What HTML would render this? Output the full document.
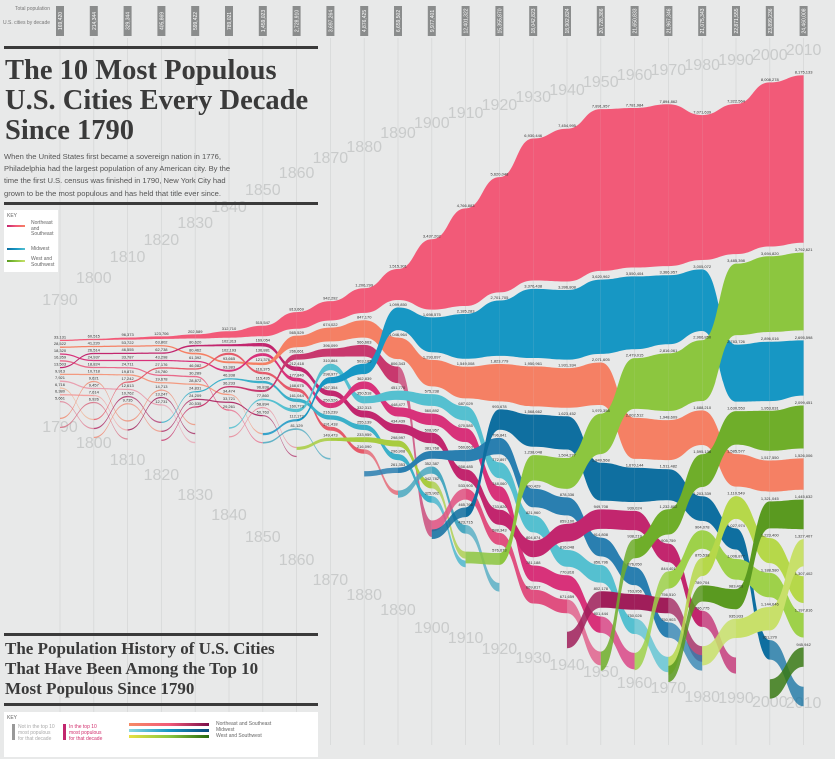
<!DOCTYPE html>
<html><head><meta charset="utf-8">
<style>
html,body{margin:0;padding:0;background:#e8e9e9;}
#wrap{position:relative;width:835px;height:759px;overflow:hidden;background:#e8e9e9;font-family:"Liberation Sans",sans-serif;}
svg{position:absolute;left:0;top:0;}
.title{position:absolute;left:5px;font-family:"Liberation Serif",serif;font-weight:bold;color:#3a3a3a;white-space:nowrap;}
.rule{position:absolute;left:4px;width:314px;height:3px;background:#3a3a3a;}
.para{position:absolute;left:4px;top:151px;width:240px;font-size:7.6px;line-height:12.2px;color:#555;white-space:nowrap;}
.key{position:absolute;background:#fff;font-size:5px;color:#666;}
</style></head><body>
<div id="wrap">
<svg id="chart" width="835" height="759"></svg>
<div class="rule" style="top:46px"></div>
<div class="title" style="top:56px;font-size:28.5px;line-height:30px;">The 10 Most Populous<br>U.S. Cities Every Decade<br>Since 1790</div>
<div class="para">When the United States first became a sovereign nation in 1776,<br>Philadelphia had the largest population of any American city. By the<br>time the first U.S. census was finished in 1790, New York City had<br>grown to be the most populous and has held that title ever since.</div>
<div class="rule" style="top:202px"></div>
<div class="key" style="left:4px;top:210px;width:54px;height:62px;">
 <div style="position:absolute;left:3px;top:3px;">KEY</div>
 <div style="position:absolute;left:3px;top:15px;width:18px;height:2px;background:linear-gradient(90deg,#c2266e,#f25a78,#f58064)"></div>
 <div style="position:absolute;left:27px;top:11px;line-height:5.5px">Northeast<br>and<br>Southeast</div>
 <div style="position:absolute;left:3px;top:38px;width:18px;height:2px;background:linear-gradient(90deg,#0f6fa0,#1797c4,#55c0d0)"></div>
 <div style="position:absolute;left:27px;top:36px;">Midwest</div>
 <div style="position:absolute;left:3px;top:50px;width:18px;height:2px;background:linear-gradient(90deg,#5a9a20,#8cc63f,#c8e06a)"></div>
 <div style="position:absolute;left:27px;top:47px;line-height:5.5px">West and<br>Southwest</div>
</div>
<div class="rule" style="top:633px"></div>
<div class="title" style="top:639px;font-size:17px;line-height:20px;">The Population History of U.S. Cities<br>That Have Been Among the Top 10<br>Most Populous Since 1790</div>
<div class="rule" style="top:703px"></div>
<div class="key" style="left:4px;top:712px;width:314px;height:45px;">
 <div style="position:absolute;left:3px;top:3px;">KEY</div>
 <div style="position:absolute;left:8px;top:12px;width:3px;height:16px;background:#999"></div>
 <div style="position:absolute;left:14px;top:12px;line-height:6px;color:#aaa">Not in the top 10<br>most populous<br>for that decade</div>
 <div style="position:absolute;left:59px;top:12px;width:3px;height:16px;background:#c2266e"></div>
 <div style="position:absolute;left:65px;top:12px;line-height:6px;color:#d2306e">In the top 10<br>most populous<br>for that decade</div>
 <div style="position:absolute;left:125px;top:11px;width:80px;height:3px;background:linear-gradient(90deg,#f58a64,#f25a78,#7a0f4a)"></div>
 <div style="position:absolute;left:125px;top:17px;width:80px;height:3px;background:linear-gradient(90deg,#8ad8e0,#1797c4,#0a4a7a)"></div>
 <div style="position:absolute;left:125px;top:23px;width:80px;height:3px;background:linear-gradient(90deg,#e8e040,#8cc63f,#2a6a10)"></div>
 <div style="position:absolute;left:212px;top:9px;line-height:6px">Northeast and Southeast<br>Midwest<br>West and Southwest</div>
</div>
</div>
<script>
const decades=[1790,1800,1810,1820,1830,1840,1850,1860,1870,1880,1890,1900,1910,1920,1930,1940,1950,1960,1970,1980,1990,2000,2010];
const totals=["169,420","214,344","329,344","405,869","599,422","789,021","1,459,023","2,728,910","3,697,264","4,876,425","6,659,502","9,977,401","12,401,322","15,355,870","18,042,823","18,902,824","20,728,386","21,650,833","21,967,346","21,075,343","22,871,555","23,899,236","24,460,008"];
const rankedCities=[
["New York","Philadelphia","Boston","Charleston","Baltimore","Northern Liberties","Salem","Newport","Providence","Marblehead"],
["New York","Philadelphia","Baltimore","Boston","Charleston","Northern Liberties","Southwark","Salem","Providence","Norfolk"],
["New York","Philadelphia","Baltimore","Boston","Charleston","Northern Liberties","New Orleans","Salem","Albany","Richmond"],
["New York","Philadelphia","Baltimore","Boston","New Orleans","Charleston","Northern Liberties","Southwark","Washington","Salem"],
["New York","Baltimore","Philadelphia","Boston","New Orleans","Charleston","Northern Liberties","Cincinnati","Albany","Brooklyn"],
["New York","Baltimore","New Orleans","Philadelphia","Boston","Cincinnati","Brooklyn","Northern Liberties","Albany","Charleston"],
["New York","Baltimore","Boston","Philadelphia","New Orleans","Cincinnati","Brooklyn","St. Louis","Spring Garden","Albany"],
["New York","Philadelphia","Brooklyn","Baltimore","Boston","New Orleans","Cincinnati","St. Louis","Chicago","Buffalo"],
["New York","Philadelphia","Brooklyn","St. Louis","Chicago","Baltimore","Boston","Cincinnati","New Orleans","San Francisco"],
["New York","Philadelphia","Brooklyn","Chicago","Boston","St. Louis","Baltimore","Cincinnati","San Francisco","New Orleans"],
["New York","Chicago","Philadelphia","Brooklyn","St. Louis","Boston","Baltimore","San Francisco","Cincinnati","Cleveland"],
["New York","Chicago","Philadelphia","St. Louis","Boston","Baltimore","Cleveland","Buffalo","San Francisco","Cincinnati"],
["New York","Chicago","Philadelphia","St. Louis","Boston","Cleveland","Baltimore","Pittsburgh","Detroit","Buffalo"],
["New York","Chicago","Philadelphia","Detroit","Cleveland","St. Louis","Boston","Baltimore","Pittsburgh","Los Angeles"],
["New York","Chicago","Philadelphia","Detroit","Los Angeles","Cleveland","St. Louis","Baltimore","Boston","Pittsburgh"],
["New York","Chicago","Philadelphia","Detroit","Los Angeles","Cleveland","Baltimore","St. Louis","Boston","Pittsburgh"],
["New York","Chicago","Philadelphia","Los Angeles","Detroit","Baltimore","Cleveland","St. Louis","Washington","Boston"],
["New York","Chicago","Los Angeles","Philadelphia","Detroit","Baltimore","Houston","Cleveland","Washington","St. Louis"],
["New York","Chicago","Los Angeles","Philadelphia","Detroit","Houston","Baltimore","Dallas","Washington","Cleveland"],
["New York","Chicago","Los Angeles","Philadelphia","Houston","Detroit","Dallas","San Diego","Phoenix","Baltimore"],
["New York","Los Angeles","Chicago","Houston","Philadelphia","San Diego","Detroit","Dallas","Phoenix","San Antonio"],
["New York","Los Angeles","Chicago","Houston","Philadelphia","Phoenix","San Diego","Dallas","San Antonio","Detroit"],
["New York","Los Angeles","Chicago","Houston","Philadelphia","Phoenix","San Antonio","San Diego","Dallas","San Jose"]];
const rankedPops=[
[33131,28522,18320,16359,13503,9913,7921,6716,6380,5661],
[60515,41220,26514,24937,18824,10718,9621,9457,7614,6926],
[96373,53722,46555,33787,24711,19874,17242,12613,10762,9735],
[123706,63802,62738,43298,27176,24780,19678,14713,13247,12731],
[202589,80620,80462,61392,46082,30289,28872,24831,24209,20535],
[312710,102313,102193,93665,93383,46338,36233,34474,33721,29261],
[515547,169054,136881,121376,116375,115435,96838,77860,58894,50763],
[813669,565529,266661,212418,177840,168675,161044,160773,112172,81129],
[942292,674022,396099,310864,298977,267354,250526,216239,191418,149473],
[1206299,847170,566663,503185,362839,350518,332313,255139,233959,216090],
[1515301,1099850,1046964,806343,451770,448477,434439,298997,296908,261353],
[3437202,1698575,1293697,575238,560892,508957,381768,352387,342782,325902],
[4766883,2185283,1549008,687029,670585,560663,558485,533905,465766,423715],
[5620048,2701705,1823779,993678,796841,772897,748060,733826,588343,576673],
[6930446,3376438,1950961,1568662,1238048,900429,821960,804874,781188,669817],
[7454995,3396808,1931334,1623452,1504277,878336,859100,816048,770816,671659],
[7891957,3620962,2071605,1970358,1849568,949708,914808,856796,802178,801444],
[7781984,3550404,2479015,2002512,1670144,939024,938219,876050,763956,750026],
[7894862,3366957,2816061,1948609,1511482,1232802,905759,844401,756510,750903],
[7071639,3005072,2966850,1688210,1595138,1203339,904078,875538,789704,786775],
[7322564,3485398,2783726,1630553,1585577,1110549,1027974,1006877,983403,935933],
[8008278,3694820,2896016,1953631,1517550,1321045,1223400,1188580,1144646,951270],
[8175133,3792621,2695598,2099451,1526006,1445632,1327407,1307402,1197816,945942]];
const cityColor={"New York":"#f25a78","Philadelphia":"#f58064","Boston":"#d8327a","Charleston":"#e86a8a","Baltimore":"#c2266e","Northern Liberties":"#f39a80","Salem":"#e9a0b0","Newport":"#f0b090","Providence":"#f2a1a0","Marblehead":"#e07a90","Southwark":"#ee8a70","Norfolk":"#d86a80","New Orleans":"#e55a6a","Albany":"#b0306a","Richmond":"#f08c78","Washington":"#a01e5a","Cincinnati":"#3bb0c9","Brooklyn":"#c8386e","St. Louis":"#55c0d0","Spring Garden":"#e88a9a","Chicago":"#1797c4","Buffalo":"#4aa8c0","San Francisco":"#a8cc40","Cleveland":"#2a7fb0","Pittsburgh":"#e05080","Detroit":"#0f6fa0","Los Angeles":"#8cc63f","Houston":"#6fae2a","Dallas":"#9ed14a","San Diego":"#b6d84a","Phoenix":"#5a9a20","San Antonio":"#c8e06a","San Jose":"#3a7a15"};
const upperY=[305,283,262,245,228,212,195,178,163,152,138,128,118,110,102,95,87,80,75,70,65,60,55];
const lowerY=[432,448,465,480,500,520,542,565,585,600,615,633,643,654,663,670,677,688,693,702,703,707,708];

const svg=document.getElementById('chart');
const NS='http://www.w3.org/2000/svg';
function xOf(i){return 60+i*33.8;}
function hOf(p){return Math.max(1.3,p*20.5e-6);}
function gapOf(i){return 5.5+i*0.2;}
const CENTER=371;
function mk(tag,attrs){const e=document.createElementNS(NS,tag);for(const k in attrs)e.setAttribute(k,attrs[k]);svg.appendChild(e);return e;}
function fmt(n){return n.toLocaleString('en-US');}

const layout=decades.map((d,i)=>{
  const pops=rankedPops[i];let total=pops.reduce((a,p)=>a+hOf(p),0)+9*gapOf(i);
  let y=CENTER-total/2;const m={};
  rankedCities[i].forEach((c,k)=>{const h=hOf(pops[k]);m[c]={t:y,b:y+h,p:pops[k]};y+=h+gapOf(i);});
  m._bottom=y;return m;});

decades.forEach((d,i)=>{
  const l=mk('line',{x1:xOf(i),x2:xOf(i),y1:38,y2:745,stroke:'#d6d8d8','stroke-width':0.8});
  
  
});
decades.forEach((d,i)=>{
  const t=mk('text',{x:xOf(i),y:upperY[i],'text-anchor':'middle','font-size':16,fill:'#c9cbcb','font-family':'Liberation Sans Narrow, Liberation Sans, sans-serif'});
  t.textContent=d;
  
  
  const t2=mk('text',{x:xOf(i),y:lowerY[i],'text-anchor':'middle','font-size':16,fill:'#c9cbcb','font-family':'Liberation Sans Narrow, Liberation Sans, sans-serif'});
  t2.textContent=d;
  
  
  const g=mk('g',{transform:`translate(${xOf(i)},6) rotate(-90)`});
  
  
  const r=document.createElementNS(NS,'rect');r.setAttribute('x',-30);r.setAttribute('y',-4);r.setAttribute('width',30);r.setAttribute('height',8);r.setAttribute('fill','#8a8c8c');g.appendChild(r);
  const tt=document.createElementNS(NS,'text');tt.setAttribute('x',-15);tt.setAttribute('y',2);tt.setAttribute('text-anchor','middle');tt.setAttribute('font-size',5);tt.setAttribute('fill','#fff');tt.textContent=totals[i];g.appendChild(tt);
});
const tp=mk('text',{x:50,y:10,'text-anchor':'end','font-size':5,fill:'#777'});tp.textContent='Total population';


const tp2=mk('text',{x:50,y:24,'text-anchor':'end','font-size':5,fill:'#777'});tp2.textContent='U.S. cities by decade';



for(let i=0;i<decades.length-1;i++){
  const A=layout[i],B=layout[i+1],x0=xOf(i),x1=xOf(i+1),xm=(x0+x1)/2;
  let exitK=0;
  rankedCities[i].forEach(c=>{
    const a=A[c];let t1,b1;
    if(B[c]){t1=B[c].t;b1=B[c].b;}
    else{const h=a.b-a.t;t1=B._bottom+10+exitK*9;b1=t1+h;exitK++;}
    const p=mk('path',{d:`M${x0},${a.t}C${xm},${a.t} ${xm},${t1} ${x1},${t1}L${x1},${b1}C${xm},${b1} ${xm},${a.b} ${x0},${a.b}Z`,fill:cityColor[c]||'#999',opacity:B[c]?1:0.75});
    
    
  });
  let enterK=0;
  rankedCities[i+1].forEach(c=>{
    if(A[c])return;const b=B[c];const h=b.b-b.t;const t0=A._bottom+10+enterK*9;enterK++;
    const p=mk('path',{d:`M${x0},${t0}C${xm},${t0} ${xm},${b.t} ${x1},${b.t}L${x1},${b.b}C${xm},${b.b} ${xm},${t0+h} ${x0},${t0+h}Z`,fill:cityColor[c]||'#999',opacity:0.85});
    
    
  });
}
decades.forEach((d,i)=>{
  rankedCities[i].forEach(c=>{
    const v=layout[i][c];
    const t=mk('text',{x:xOf(i),y:v.t-1.5,'text-anchor':'middle','font-size':4,fill:'#333'});
    t.textContent=fmt(v.p);
    
    
  });
});
</script>
</body></html>
